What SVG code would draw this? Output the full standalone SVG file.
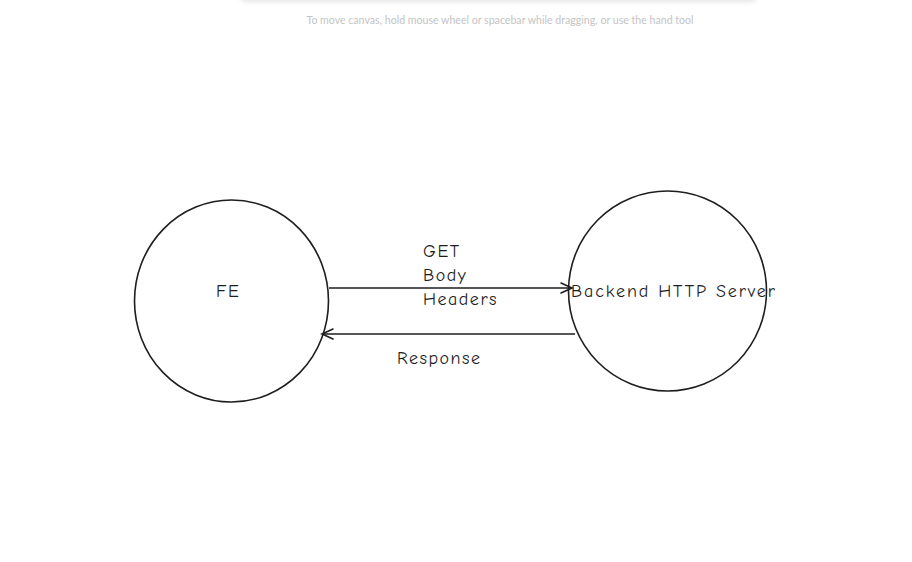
<svg xmlns="http://www.w3.org/2000/svg" width="912" height="562" viewBox="0 0 912 562">
<defs>
<filter id="sh" x="-10%" y="-100%" width="120%" height="400%"><feGaussianBlur stdDeviation="2.5"/></filter>
<marker id="ah" markerWidth="14" markerHeight="14" refX="12" refY="7" orient="auto" markerUnits="userSpaceOnUse">
<path d="M1,2 L12,7 L1,12" fill="none" stroke="#1e1e1e" stroke-width="1.6" stroke-linecap="round"/>
</marker>
<style>
.node{fill:none;stroke:#1e1e1e;stroke-width:1.6}
.lbl{font-family:"Comic Neue","Liberation Sans",sans-serif;font-size:18px;letter-spacing:1.5px;fill:#1e1e1e}
.edge{fill:none;stroke:#1e1e1e;stroke-width:1.6}
.hint{font-family:Lato,"Liberation Sans",sans-serif;font-size:10.6px;fill:#c4c4c4}
</style>
</defs>
<rect width="912" height="562" fill="#ffffff"/>
<rect x="240" y="-12" width="517" height="14" rx="6" fill="#000" opacity="0.10" filter="url(#sh)"/>
<rect x="240" y="-12" width="517" height="12" rx="6" fill="#ffffff"/>
<text class="hint" x="500" y="24" text-anchor="middle">To move canvas, hold mouse wheel or spacebar while dragging, or use the hand tool</text>
<g id="fe">
<ellipse class="node" cx="231.5" cy="301" rx="97" ry="101"/>
<text class="lbl" x="216" y="297">FE</text>
</g>
<g id="backend">
<ellipse class="node" cx="667.5" cy="291" rx="99" ry="100"/>
<text class="lbl" x="571" y="297" style="letter-spacing:1.9px">Backend HTTP Server</text>
</g>
<g id="connectors">
<line class="edge" x1="329" y1="288" x2="572" y2="288" marker-end="url(#ah)"/>
<text class="lbl" x="423" y="257">GET</text>
<text class="lbl" x="423" y="281">Body</text>
<text class="lbl" x="423" y="305">Headers</text>
<line class="edge" x1="575" y1="334" x2="322" y2="334" marker-end="url(#ah)"/>
<text class="lbl" x="397" y="364">Response</text>
</g>
</svg>
